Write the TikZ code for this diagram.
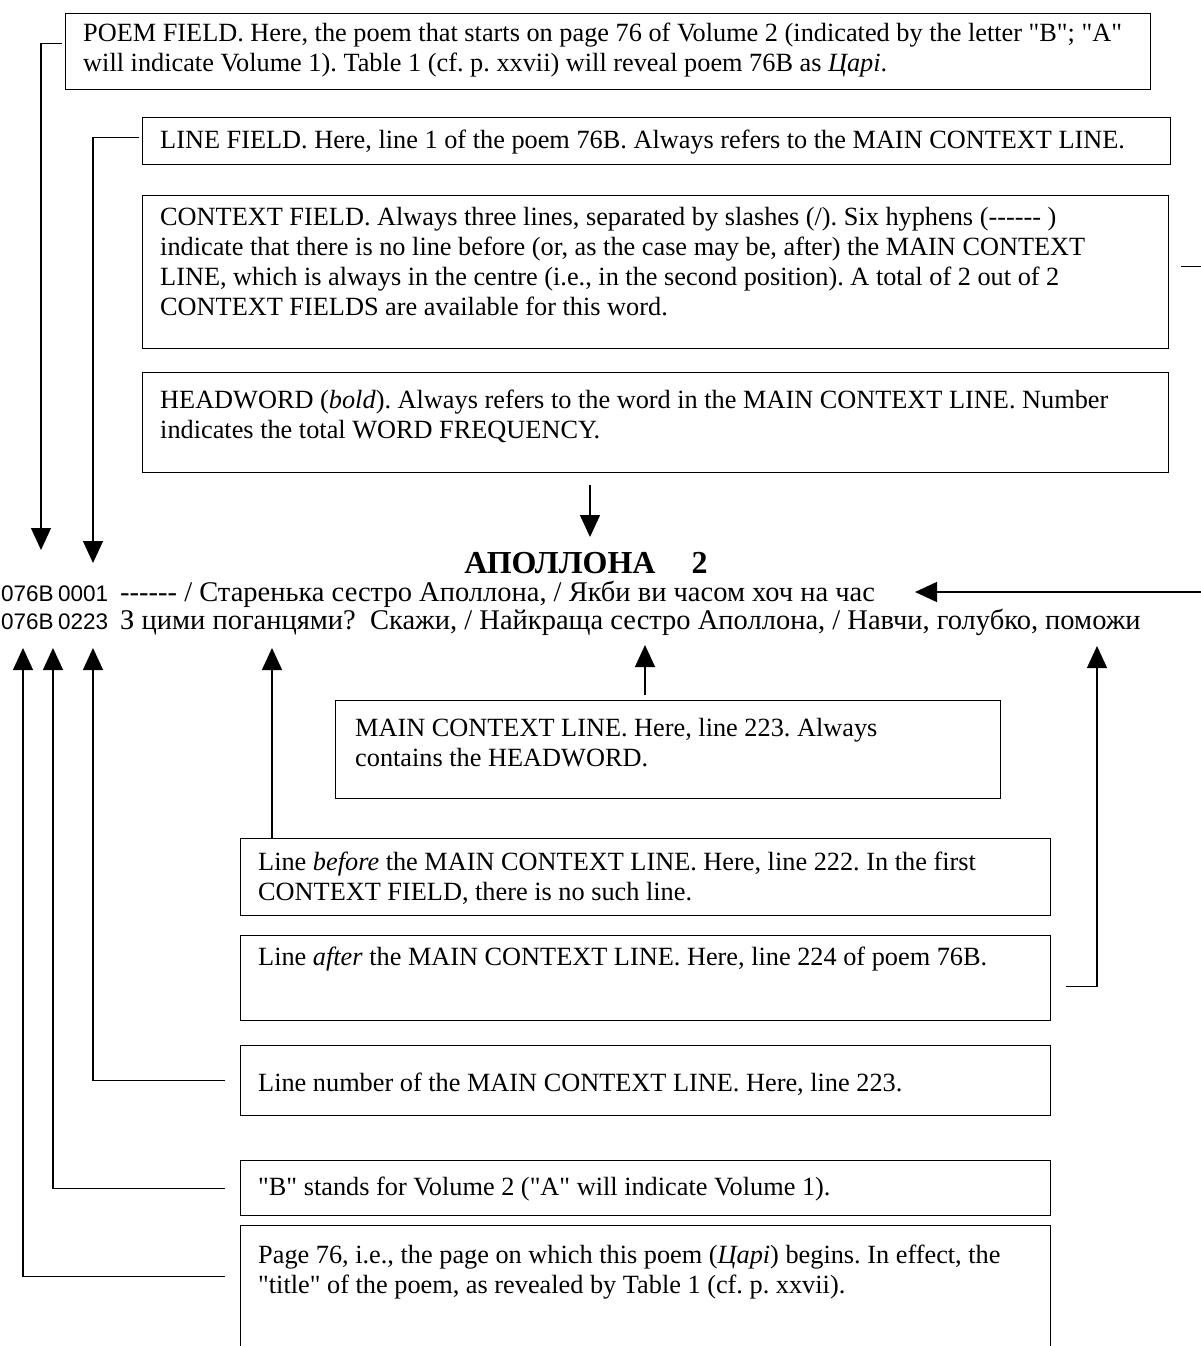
\documentclass[tikz,border=0pt]{standalone}
\usepackage{fontspec}
\setmainfont{Liberation Serif}[Ligatures=TeXOff]
\newfontfamily\numfont{Liberation Sans}
\usetikzlibrary{arrows.meta}
\newcommand\sixhy{{-}{-}{-}{-}{-}{-}}
\frenchspacing
\begin{document}
\frenchspacing
\begin{tikzpicture}[x={(1pt,0)},y={(0,-1pt)},
  box/.style={draw, line width=1.3pt, inner sep=0pt, anchor=north west},
  txt/.style={anchor=north west, inner sep=0pt, align=left, font=\fontsize{26.3}{30}\selectfont\frenchspacing},
  rowtxt/.style={anchor=base west, inner sep=0pt, font=\fontsize{28.5}{32}\selectfont},
  numtxt/.style={anchor=base west, inner sep=0pt, font=\numfont\fontsize{22.5}{26}\selectfont},
  conn/.style={line width=1.3pt},
  arr/.style={line width=1.3pt, -{Triangle[width=20pt,length=22pt]}}]
\useasboundingbox (0,0) rectangle (1201,1346);
\clip (0,0) rectangle (1201,1346);

% ---- boxes ----
\node[box, minimum width=1085pt, minimum height=76pt] (poem) at (65,13) {};
\node[txt] (poemt) at (83,20) {\strut POEM FIELD. Here, the poem that starts on page 76 of Volume 2 (indicated by the letter "B"; "A"\\
will indicate Volume 1). Table 1 (cf. p. xxvii) will reveal poem 76B as \textit{Царі}.};

\node[box, minimum width=1028pt, minimum height=47pt] (line) at (142,117) {};
\node[txt] (linet) at (160,127) {\strut LINE FIELD. Here, line 1 of the poem 76B. Always refers to the MAIN CONTEXT LINE.};

\node[box, minimum width=1026pt, minimum height=153pt] (ctx) at (142,195) {};
\node[txt] (ctxt) at (160,204) {\strut CONTEXT FIELD. Always three lines, separated by slashes (/). Six hyphens (\sixhy{} )\\
indicate that there is no line before (or, as the case may be, after) the MAIN CONTEXT\\
LINE, which is always in the centre (i.e., in the second position). A total of 2 out of 2\\
CONTEXT FIELDS are available for this word.};

\node[box, minimum width=1026pt, minimum height=100pt] (head) at (142,372) {};
\node[txt] (headt) at (160,387) {\strut HEADWORD (\textit{bold}). Always refers to the word in the MAIN CONTEXT LINE. Number\\
indicates the total WORD FREQUENCY.};

\node[box, minimum width=665pt, minimum height=98pt] (main) at (335,700) {};
\node[txt] (maint) at (355,715) {\strut MAIN CONTEXT LINE. Here, line 223. Always\\
contains the HEADWORD.};

\node[box, minimum width=810pt, minimum height=77pt] (before) at (240,838) {};
\node[txt] (beforet) at (258,849) {\strut Line \textit{before} the MAIN CONTEXT LINE. Here, line 222. In the first\\
CONTEXT FIELD, there is no such line.};

\node[box, minimum width=810pt, minimum height=85pt] (after) at (240,935) {};
\node[txt] (aftert) at (258,944) {\strut Line \textit{after} the MAIN CONTEXT LINE. Here, line 224 of poem 76B.};

\node[box, minimum width=810pt, minimum height=70pt] (num) at (240,1045) {};
\node[txt] (numt) at (258,1070) {\strut Line number of the MAIN CONTEXT LINE. Here, line 223.};

\node[box, minimum width=810pt, minimum height=55pt] (vol) at (240,1160) {};
\node[txt] (volt) at (258,1174) {\strut "B" stands for Volume 2 ("A" will indicate Volume 1).};

\node[box, minimum width=810pt, minimum height=145pt] (page) at (240,1225) {};
\node[txt] (paget) at (258,1242) {\strut Page 76, i.e., the page on which this poem (\textit{Царі}) begins. In effect, the\\
"title" of the poem, as revealed by Table 1 (cf. p. xxvii).};

% ---- entry ----
\node[anchor=base, inner sep=0pt, font=\fontsize{32}{36}\selectfont\bfseries] (hw) at (586,573) {АПОЛЛОНА\hspace{36pt}2};
\node[numtxt] (v1) at (1,601) {076B};
\node[numtxt] (n1) at (58,601) {0001};
\node[rowtxt] (r1) at (120,601) {\sixhy{} / Старенька сестро Аполлона, / Якби ви часом хоч на час};
\node[numtxt] (v2) at (1,629) {076B};
\node[numtxt] (n2) at (58,629) {0223};
\node[rowtxt] (r2) at (120,629) {З цими поганцями?\ \ Скажи, / Найкраща сестро Аполлона, / Навчи, голубко, поможи};

% ---- arrow tips ----
\coordinate (tpoem) at (41,550);
\coordinate (tline) at (93,563);
\coordinate (thead) at (590,537);
\coordinate (tctx) at (915,592);
\coordinate (tpage) at (23,648);
\coordinate (tvol) at (53,648);
\coordinate (tnum) at (93,648);
\coordinate (tbefore) at (272,648);
\coordinate (tmain) at (645,645);
\coordinate (tafter) at (1097,646);

% ---- connectors ----
\draw[arr] ([xshift=-3pt,yshift=8pt]poem.west) -| (tpoem);
\draw[arr] ([xshift=-3pt,yshift=4pt]line.west) -| (tline);
\draw[arr] (thead |- head.south) ++(0,12) -- (thead);
\draw[arr] ([xshift=12pt,yshift=6pt]ctx.east) -- ([xshift=50pt,yshift=6pt]ctx.east) |- (tctx);
\draw[arr] ([xshift=-15pt,yshift=22pt]page.west) -| (tpage);
\draw[arr] ([xshift=-15pt]vol.west) -| (tvol);
\draw[arr] ([xshift=-15pt]num.west) -| (tnum);
\draw[arr] (tbefore |- before.north) -- (tbefore);
\draw[arr] (tmain |- main.north) ++(0,-5) -- (tmain);
\draw[arr] ([xshift=15pt,yshift=-8pt]after.east) -| (tafter);
\end{tikzpicture}
\end{document}
